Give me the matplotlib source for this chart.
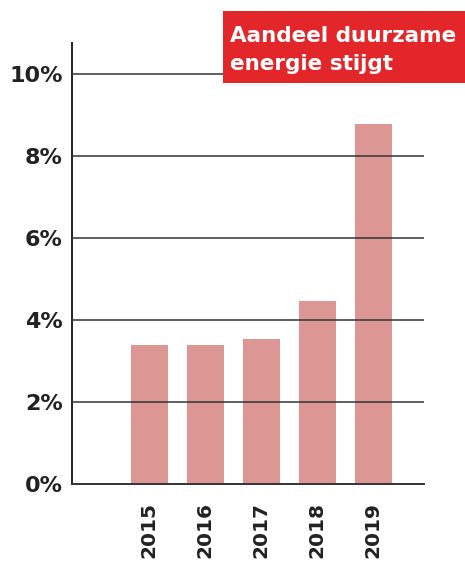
import numpy as np
import matplotlib.pyplot as plt
from matplotlib.patches import Rectangle

years = ['2015', '2016', '2017', '2018', '2019']
share = [3.39, 3.39, 3.53, 4.46, 8.79]
yticks = [0, 2, 4, 6, 8, 10]
ytick_labels = ['0%', '2%', '4%', '6%', '8%', '10%']

fig = plt.figure(figsize=(4.65, 5.63), dpi=100)
ax = fig.add_axes([0.1542, 0.1403, 0.7577, 0.7833])

x = np.arange(len(years))
ax.bar(x, share, width=0.655, color='#dc9694', zorder=1)

for t in yticks[1:]:
    ax.axhline(t, color='#333333', lw=1.1, zorder=3)

ax.set_xlim(-1.386, 4.905)
ax.set_ylim(0, 10.76)
ax.set_yticks(yticks)
ax.set_yticklabels(ytick_labels, fontsize=16, fontweight='bold', color='#222222')
ax.set_xticks(x)
ax.set_xticklabels(years, rotation=90, fontsize=14.5, fontweight='bold', color='#222222')
ax.tick_params(axis='y', length=0, pad=6.5)
ax.tick_params(axis='x', length=0, pad=13)

for s in ['top', 'right']:
    ax.spines[s].set_visible(False)
ax.spines['left'].set_color('#222222')
ax.spines['left'].set_linewidth(1.4)
ax.spines['bottom'].set_color('#333333')
ax.spines['bottom'].set_linewidth(1.4)

# title box
fig.patches.append(Rectangle((0.4796, 0.852), 0.5204, 0.1285, transform=fig.transFigure,
                             facecolor='#e3262a', edgecolor='none', zorder=5))
fig.text(0.4946, 0.926, 'Aandeel duurzame', color='white', fontsize=15.5,
         fontweight='bold', va='baseline', ha='left', zorder=6)
fig.text(0.4946, 0.8757, 'energie stijgt', color='white', fontsize=15.5,
         fontweight='bold', va='baseline', ha='left', zorder=6)

fig.savefig('out.png', dpi=100)
